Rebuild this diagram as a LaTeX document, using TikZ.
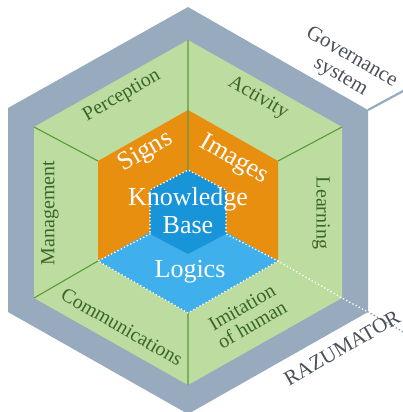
\documentclass[tikz,border=0pt]{standalone}
\usepackage{xcolor}
\usepackage{tikz}
\usepackage{fontspec}
\setmainfont{Liberation Serif}

\definecolor{frame}{HTML}{98AABD}
\definecolor{field}{HTML}{BCDCA0}
\definecolor{fieldline}{HTML}{5C9A38}
\definecolor{fieldtext}{HTML}{3A6628}
\definecolor{core}{HTML}{E98F10}
\definecolor{logic}{HTML}{40B0EC}
\definecolor{base}{HTML}{1894D9}
\definecolor{captext}{HTML}{4A5158}

\begin{document}
\begin{tikzpicture}[x=1pt, y=-1pt,
        divider/.style={draw=fieldline, line width=1.1pt},
        dotline/.style={draw=white, line width=1.8pt, line cap=round, dash pattern=on 0pt off 3.6pt},
        face/.style={text=fieldtext, font=\fontsize{20}{20}\selectfont, inner sep=0pt, align=center},
        kernel/.style={text=white, font=\fontsize{26}{28}\selectfont, inner sep=0pt, align=center},
        caption/.style={text=captext, font=\fontsize{21}{22}\selectfont, inner sep=0pt, align=center}]
    \useasboundingbox (0,0) rectangle (403,412);

    % governance frame, field, core, knowledge base
    \coordinate (o1) at (188,7);   \coordinate (o2) at (368,110); \coordinate (o3) at (368,312);
    \coordinate (o4) at (188,414); \coordinate (o5) at (8,312);   \coordinate (o6) at (8,108);
    \coordinate (g1) at (188,40);  \coordinate (g2) at (342,127); \coordinate (g3) at (342,298);
    \coordinate (g4) at (188,385); \coordinate (g5) at (34,298);  \coordinate (g6) at (34,127);
    \coordinate (r1) at (188,110); \coordinate (r2) at (278,161); \coordinate (r3) at (278,261);
    \coordinate (r4) at (188,313); \coordinate (r5) at (98,261);  \coordinate (r6) at (98,161);
    \coordinate (k1) at (188,170); \coordinate (k2) at (226,190); \coordinate (k3) at (226,234);
    \coordinate (k4) at (188,254); \coordinate (k5) at (150,234); \coordinate (k6) at (150,190);
    \coordinate (c) at (188,211);
    \coordinate (govend) at (405,90);
    \coordinate (razend) at (405,333);

    \fill[frame] (o1) -- (o2) -- (o3) -- (o4) -- (o5) -- (o6) -- cycle;
    \fill[field] (g1) -- (g2) -- (g3) -- (g4) -- (g5) -- (g6) -- cycle;
    \fill[core]  (r1) -- (r2) -- (r3) -- (r4) -- (r5) -- (r6) -- cycle;
    \fill[logic] (r5) -- (c) -- (r3) -- (r4) -- cycle;
    \fill[base]  (k1) -- (k2) -- (k3) -- (k4) -- (k5) -- (k6) -- cycle;

    \draw[divider] (g1) -- (k1) (g6) -- (r6) (g2) -- (r2) (g5) -- (r5) (g4) -- (r4);
    \draw[dotline] (k5) -- (r5) -- (r4) -- (r3) -- (k3) -- (k2) -- (k1) -- (k6) -- (k5);
    \draw[dotline] (r3) -- (g3) -- (o3);
    \draw[dotline, draw=frame!85!black] (o3) -- (razend);
    \draw[frame, line width=2.2pt] (o2) -- (govend);

    % labels
    \node[face, rotate=30]  (perception) at (122,96) {Perception};
    \node[face, rotate=-30] (activity) at (258,98) {Activity};
    \node[face, rotate=90]  (management) at (50,213) {Management};
    \node[face, rotate=-90] (learning) at (321,213) {Learning};
    \node[face, rotate=-30] (communications) at (122,327) {Communications};
    \node[face, rotate=30]  (imitation) at (247,316) {Imitation\\of human};
    \node[kernel, rotate=30]  (signs) at (146,152) {Signs};
    \node[kernel, rotate=-30] (images) at (234,160) {Images};
    \node[kernel] (knowledge) at (188,211) {Knowledge\\Base};
    \node[kernel] (logics) at (190,272) {Logics};
    \node[caption, rotate=-30] (governance) at (346,67) {Governance\\system};
    \node[caption, rotate=30]  (razumator) at (342,348) {RAZUMATOR};
\end{tikzpicture}
\end{document}
